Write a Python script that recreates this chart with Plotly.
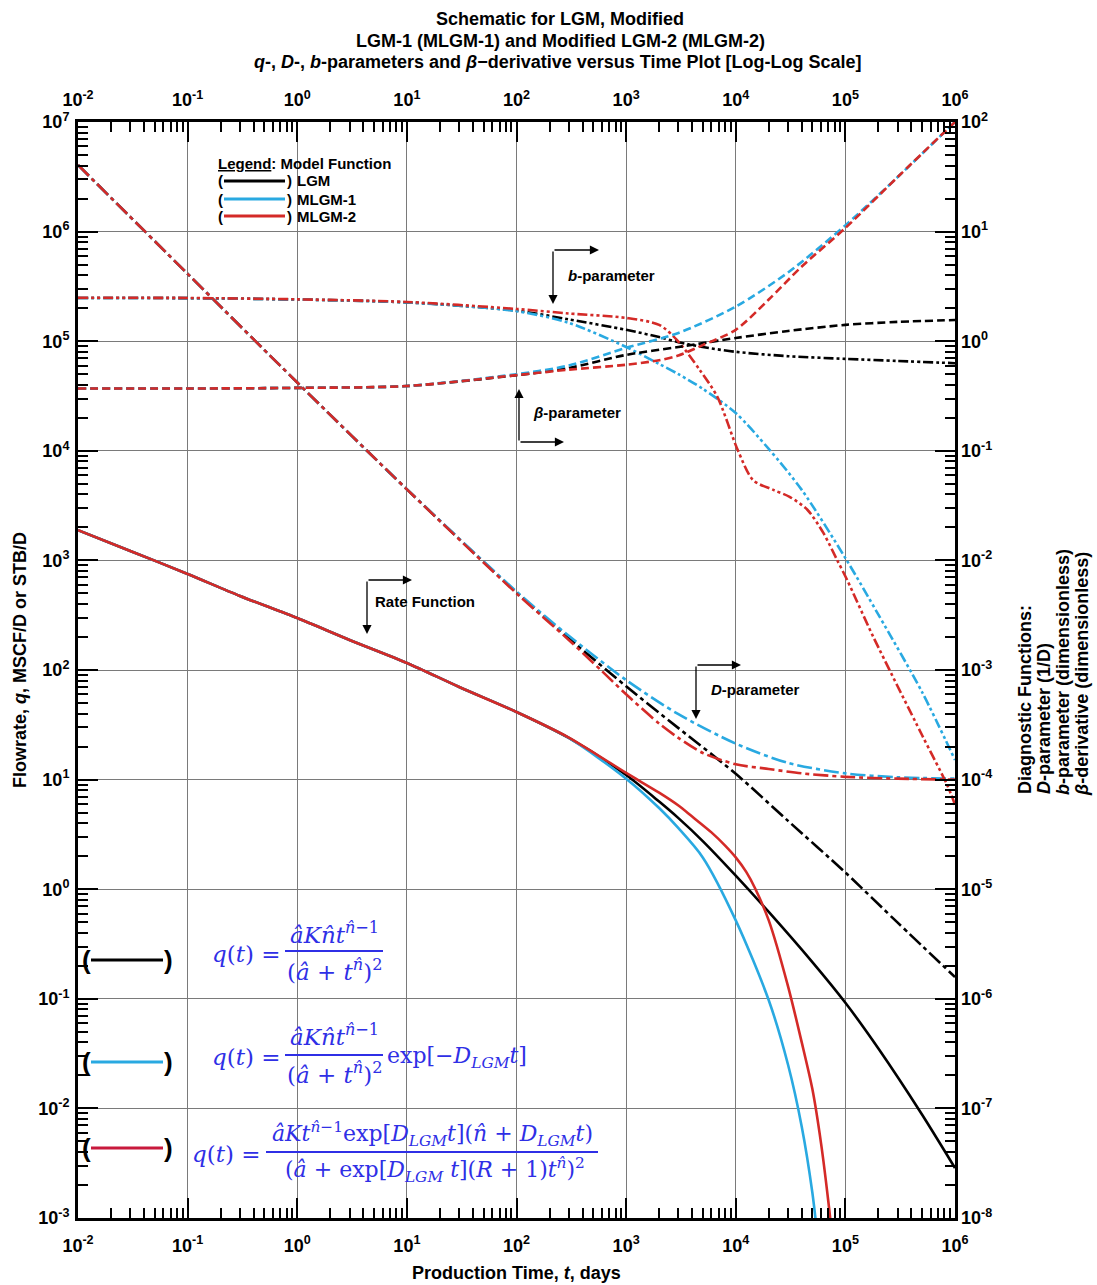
import plotly.graph_objects as go

# ---------------- data ----------------
# Rate functions (left axis, q)
T_RATE_LGM = [0.01, 0.03, 0.1, 0.3, 1, 3, 10, 30, 100, 300, 1000, 2000, 3000, 5000,
              1e4, 2e4, 5e4, 1e5, 2e5, 5e5, 1e6]
Q_LGM = [1890, 1220, 752, 474, 298, 188, 116, 70, 41.4, 24, 11.0, 6.3, 4.45, 2.75,
         1.33, 0.62, 0.216, 0.092, 0.0352, 0.0088, 0.00286]

T_RATE_M1 = [0.01, 0.03, 0.1, 0.3, 1, 3, 10, 30, 100, 300, 1000, 2000, 3000, 5000,
             1e4, 2e4, 3e4, 4e4, 5e4, 5.5e4]
Q_MLGM1 = [1890, 1220, 752, 474, 298, 188, 116, 70, 41.4, 24, 10.2, 5.5, 3.6, 1.95,
           0.52, 0.097, 0.025, 0.0068, 0.0017, 0.00075]

T_RATE_M2 = [0.01, 0.03, 0.1, 0.3, 1, 3, 10, 30, 100, 300, 1000, 2000, 3000, 4000,
             6000, 8000, 1e4, 1.25e4, 1.5e4, 2e4, 3e4, 4e4, 5e4, 6e4, 7e4, 8e4]
Q_MLGM2 = [1890, 1220, 752, 474, 298, 188, 116, 70, 41.4, 24.2, 11.5, 7.6, 5.8, 4.6,
           3.3, 2.5, 1.95, 1.43, 1.02, 0.52, 0.13, 0.04, 0.015, 0.0048, 0.0014, 0.0004]

# D-parameter (right axis, 1/D)
T_D = [0.01, 0.1, 1, 10, 100, 300, 1000, 3000, 1e4, 3e4, 1e5, 3e5, 1e6]
D_LGM = [40.5, 4.12, 0.42, 0.0445, 0.0051, 0.00195, 7.1e-4, 2.95e-4, 1.13e-4,
         4.2e-5, 1.42e-5, 4.95e-6, 1.58e-6]
D_MLGM1 = [40.5, 4.12, 0.42, 0.0446, 0.0052, 0.00205, 8.1e-4, 3.95e-4, 2.13e-4,
           1.42e-4, 1.14e-4, 1.05e-4, 1.02e-4]
T_D_M2 = [0.01, 0.1, 1, 10, 100, 300, 600, 1000, 2000, 3000, 5000, 1e4, 2e4, 4e4,
          1e5, 3e5, 1e6]
D_MLGM2 = [40.5, 4.12, 0.42, 0.0445, 0.0050, 0.00188, 9.8e-4, 6.0e-4, 3.25e-4,
           2.4e-4, 1.75e-4, 1.38e-4, 1.25e-4, 1.14e-4, 1.06e-4, 1.02e-4, 1.0e-4]

# b-parameter (right axis, dimensionless)
T_B_LGM = [0.01, 0.1, 1, 10, 100, 300, 1000, 2000, 3000, 5000, 1e4, 3e4, 1e5, 3e5, 1e6]
B_LGM = [2.48, 2.47, 2.40, 2.26, 1.90, 1.58, 1.27, 1.09, 0.98, 0.885, 0.80, 0.73,
         0.69, 0.66, 0.63]
T_B_M1 = [0.01, 0.1, 1, 10, 100, 300, 1000, 2000, 3000, 5000, 1e4, 2e4, 4e4, 1e5,
          2e5, 5e5, 1e6]
B_MLGM1 = [2.48, 2.47, 2.40, 2.26, 1.88, 1.47, 0.885, 0.62, 0.50, 0.368, 0.221,
           0.104, 0.044, 0.0105, 0.0032, 6.3e-4, 1.51e-4]
T_B_M2 = [0.01, 0.1, 1, 10, 100, 300, 1000, 2000, 2900, 4700, 6800, 1.05e4, 1.44e4,
          2.2e4, 3.1e4, 4.5e4, 6.3e4, 8.4e4, 1.04e5, 1.8e5, 5e5, 8.5e5, 1e6]
B_MLGM2 = [2.49, 2.48, 2.41, 2.28, 1.97, 1.79, 1.63, 1.41, 1.03, 0.546, 0.31, 0.1,
           0.054, 0.044, 0.038, 0.029, 0.0178, 0.0101, 0.0066, 0.0020, 2.55e-4,
           8.9e-5, 5.9e-5]

# beta-derivative (right axis, dimensionless)
T_BETA = [0.01, 0.1, 1, 10, 100, 300, 1000, 3000, 1e4, 3e4, 1e5, 3e5, 1e6]
BETA_LGM = [0.37, 0.37, 0.375, 0.39, 0.49, 0.57, 0.75, 0.885, 1.07, 1.24, 1.41,
            1.50, 1.56]
BETA_MLGM1 = [0.37, 0.37, 0.375, 0.39, 0.50, 0.60, 0.87, 1.19, 2.07, 4.24, 11.4,
              31.5, 100]
T_BETA_M2 = [0.01, 0.1, 1, 10, 100, 300, 1000, 2000, 3000, 5000, 1e4, 2e4, 4e4,
             1e5, 3e5, 1e6]
BETA_MLGM2 = [0.37, 0.37, 0.375, 0.39, 0.49, 0.55, 0.61, 0.67, 0.74, 0.92, 1.27,
              2.4, 4.8, 10.8, 31.5, 100]

X_DECADES = list(range(-2, 7))
YL_DECADES = list(range(-3, 8))
YR_DECADES = list(range(-8, 3))

# ---------------- styling ----------------
BLACK = "#000000"
BLUE = "#29A9E1"
RED = "#D42A27"
CRIMSON = "#C8193C"
FCOL = "#2F2FE6"
SANS = "Liberation Sans, Arial, sans-serif"
SERIF = "DejaVu Serif, serif"

DASH_D = "15px,4px,4px,4px"
DASH_B = "10px,3px,3px,3px,3px,3px"
DASH_BETA = "8px,4px"
LW = 2.6

W, H = 1097, 1285
L, R, T, B = 78, 955, 122, 1218


def px(x):
    return (x - L) / (R - L)


def py(y):
    return (B - y) / (B - T)


fig = go.Figure()


def add(x, y, color, dash, axis):
    fig.add_trace(go.Scatter(x=x, y=y, mode="lines", yaxis=axis,
                             line=dict(color=color, width=LW, dash=dash,
                                       shape="spline", smoothing=0.8),
                             hoverinfo="skip", showlegend=False))


# D-parameter
add(T_D, D_LGM, BLACK, DASH_D, "y2")
add(T_D, D_MLGM1, BLUE, DASH_D, "y2")
add(T_D_M2, D_MLGM2, RED, DASH_D, "y2")
# b-parameter
add(T_B_LGM, B_LGM, BLACK, DASH_B, "y2")
add(T_B_M1, B_MLGM1, BLUE, DASH_B, "y2")
add(T_B_M2, B_MLGM2, RED, DASH_B, "y2")
# beta derivative
add(T_BETA, BETA_LGM, BLACK, DASH_BETA, "y2")
add(T_BETA, BETA_MLGM1, BLUE, DASH_BETA, "y2")
add(T_BETA_M2, BETA_MLGM2, RED, DASH_BETA, "y2")
# rate
add(T_RATE_LGM, Q_LGM, BLACK, "solid", "y")
add(T_RATE_M1, Q_MLGM1, BLUE, "solid", "y")
add(T_RATE_M2, Q_MLGM2, RED, "solid", "y")

# invisible anchor trace for the top x axis
fig.add_trace(go.Scatter(x=[1], y=[1], xaxis="x2", yaxis="y", mode="markers",
                         marker=dict(opacity=0), hoverinfo="skip", showlegend=False))


def sup_labels(decs):
    return [f"<b>10<sup>{d}</sup></b>" for d in decs]


def minor_vals(decs):
    return [k * 10.0 ** d for d in decs[:-1] for k in range(2, 10)]


tickfont = dict(family=SANS, size=18, color="black")
common = dict(type="log", showline=True, linewidth=3, linecolor="black",
              ticks="inside", ticklen=20, tickwidth=2, tickcolor="black",
              showgrid=True, gridcolor="#7a7a7a", gridwidth=1, zeroline=False,
              tickfont=tickfont)

fig.update_layout(
    width=W, height=H,
    margin=dict(l=L, r=W - R, t=T, b=H - B),
    paper_bgcolor="white", plot_bgcolor="white",
    showlegend=False,
    xaxis=dict(range=[-2, 6], mirror="ticks", ticklabelstandoff=9,
               tickvals=[10.0 ** d for d in X_DECADES], ticktext=sup_labels(X_DECADES),
               minor=dict(tickmode="array", tickvals=minor_vals(X_DECADES),
                          ticks="inside", ticklen=10, tickwidth=1.6,
                          tickcolor="black", showgrid=False),
               **common),
    xaxis2=dict(type="log", range=[-2, 6], overlaying="x", side="top",
                ticklabelstandoff=11,
                tickvals=[10.0 ** d for d in X_DECADES], ticktext=sup_labels(X_DECADES),
                ticks="", showgrid=False, showline=False, zeroline=False,
                tickfont=tickfont),
    yaxis=dict(range=[-3, 7], mirror="ticks", ticklabelstandoff=2,
               tickvals=[10.0 ** d for d in YL_DECADES], ticktext=sup_labels(YL_DECADES),
               minor=dict(tickmode="array", tickvals=minor_vals(YL_DECADES),
                          ticks="inside", ticklen=10, tickwidth=1.6,
                          tickcolor="black", showgrid=False),
               **common),
    yaxis2=dict(type="log", range=[-8, 2], overlaying="y", side="right",
                ticklabelstandoff=5,
                tickvals=[10.0 ** d for d in YR_DECADES], ticktext=sup_labels(YR_DECADES),
                ticks="", showgrid=False, showline=False, zeroline=False,
                tickfont=tickfont),
)

ann = []
shapes = []


def text(x, y, s, size=15, xanchor="left", yanchor="middle", color="black",
         family=SANS, angle=0, align="left"):
    ann.append(dict(x=px(x), y=py(y), xref="paper", yref="paper", text=s,
                    showarrow=False, xanchor=xanchor, yanchor=yanchor,
                    font=dict(family=family, size=size, color=color),
                    textangle=angle, align=align))


def hline(x0, x1, y, color, width):
    shapes.append(dict(type="line", xref="paper", yref="paper",
                       x0=px(x0), x1=px(x1), y0=py(y), y1=py(y),
                       line=dict(color=color, width=width)))


def arrow(cx, cy, hx, hy):
    ann.append(dict(x=px(hx), y=py(hy), xref="paper", yref="paper", text="",
                    showarrow=True, ax=cx - hx, ay=cy - hy, axref="pixel",
                    ayref="pixel", arrowhead=2, arrowsize=1.4, arrowwidth=1.3,
                    arrowcolor="black"))


# title (three lines)
text(560, 19, "<b>Schematic for LGM, Modified</b>", size=18, xanchor="center")
text(560, 41, "<b>LGM-1 (MLGM-1) and Modified LGM-2 (MLGM-2)</b>", size=18,
     xanchor="center")
text(558, 62, "<b><i>q</i>-, <i>D</i>-, <i>b</i>-parameters and <i>β</i>−derivative "
     "versus Time Plot [Log-Log Scale]</b>", size=18, xanchor="center")

# axis titles
text(516, 1273, "<b>Production Time, <i>t</i>, days</b>", size=18, xanchor="center")
text(20, 660, "<b>Flowrate, <i>q</i>, MSCF/D or STB/D</b>", size=18,
     xanchor="center", angle=-90)
for xx, yy, s in [(1025, 700, "Diagnostic Functions:"),
                  (1044, 719, "<i>D</i>-parameter (1/D)"),
                  (1063, 672, "<i>b</i>-parameter (dimensionless)"),
                  (1082, 674, "<i>β</i>-derivative (dimensionless)")]:
    text(xx, yy, f"<b>{s}</b>", size=18, xanchor="center", angle=-90)

# legend block (top-left)
text(216, 163, "<b><u>Legend</u>: Model Function</b>", size=15)
for yy, col, lab in [(181, BLACK, "LGM"), (199, BLUE, "MLGM-1"), (216, RED, "MLGM-2")]:
    text(220, yy, "<b>(</b>", size=15, xanchor="center")
    hline(224, 285, yy, col, 3)
    text(289, yy, "<b>)</b>", size=15, xanchor="center")
    text(295, yy, f"<b>{lab}</b>", size=15)

# pointer arrows and labels
arrow(553, 250, 599, 250)
arrow(553, 250, 553, 304)
text(566, 275, "<b><i>b</i>-parameter</b>", size=15)
arrow(519, 442, 519, 389)
arrow(519, 442, 564, 442)
text(531, 412, "<b><i>β</i>-parameter</b>", size=15)
arrow(367, 580, 412, 580)
arrow(367, 580, 367, 634)
text(373, 601, "<b>Rate Function</b>", size=15)
arrow(696, 665, 741, 665)
arrow(696, 665, 696, 719)
text(709, 690, "<b><i>D</i>-parameter</b>", size=15)

# formula legend (bottom-left)
for yy, col in [(960, BLACK), (1062, BLUE), (1148, CRIMSON)]:
    text(86, yy, "<b>(</b>", size=26, xanchor="center")
    hline(91, 163, yy, col, 3)
    text(168, yy, "<b>)</b>", size=26, xanchor="center")

NH = "n\u0302"
QT = "<i>q</i>(<i>t</i>) ="
NUM1 = f"<i>âK{NH}t</i><sup><i>{NH}</i>−1</sup>"
DEN1 = f"(<i>â</i> + <i>t</i><sup><i>{NH}</i></sup>)<sup>2</sup>"
DLGM = "<i>D</i><sub><i>LGM</i></sub>"
FS = 23

# formula 1
text(283, 954, QT, size=FS, xanchor="right", color=FCOL, family=SERIF)
text(334, 933, NUM1, size=FS, xanchor="center", color=FCOL, family=SERIF)
hline(285, 383, 951, FCOL, 2)
text(334, 970, DEN1, size=FS, xanchor="center", color=FCOL, family=SERIF)
# formula 2
text(283, 1057, QT, size=FS, xanchor="right", color=FCOL, family=SERIF)
text(334, 1035, NUM1, size=FS, xanchor="center", color=FCOL, family=SERIF)
hline(285, 383, 1055, FCOL, 2)
text(334, 1073, DEN1, size=FS, xanchor="center", color=FCOL, family=SERIF)
text(385, 1057, f"exp[−{DLGM}<i>t</i>]", size=FS - 1, color=FCOL, family=SERIF)
# formula 3
text(263, 1154, QT, size=FS, xanchor="right", color=FCOL, family=SERIF)
text(432, 1134, f"<i>âKt</i><sup><i>{NH}</i>−1</sup>exp[{DLGM}<i>t</i>](<i>{NH}</i> + {DLGM}<i>t</i>)",
     size=FS - 1, xanchor="center", color=FCOL, family=SERIF)
hline(266, 598, 1152, FCOL, 2)
text(435, 1170, f"(<i>â</i> + exp[{DLGM} <i>t</i>](<i>R</i> + 1)<i>t</i><sup><i>{NH}</i></sup>)<sup>2</sup>",
     size=FS - 1, xanchor="center", color=FCOL, family=SERIF)

fig.update_layout(annotations=ann, shapes=shapes)
fig.write_html("out.html", config={"displayModeBar": False},
               post_script="document.body.style.margin='0px';document.body.style.padding='0px';")
